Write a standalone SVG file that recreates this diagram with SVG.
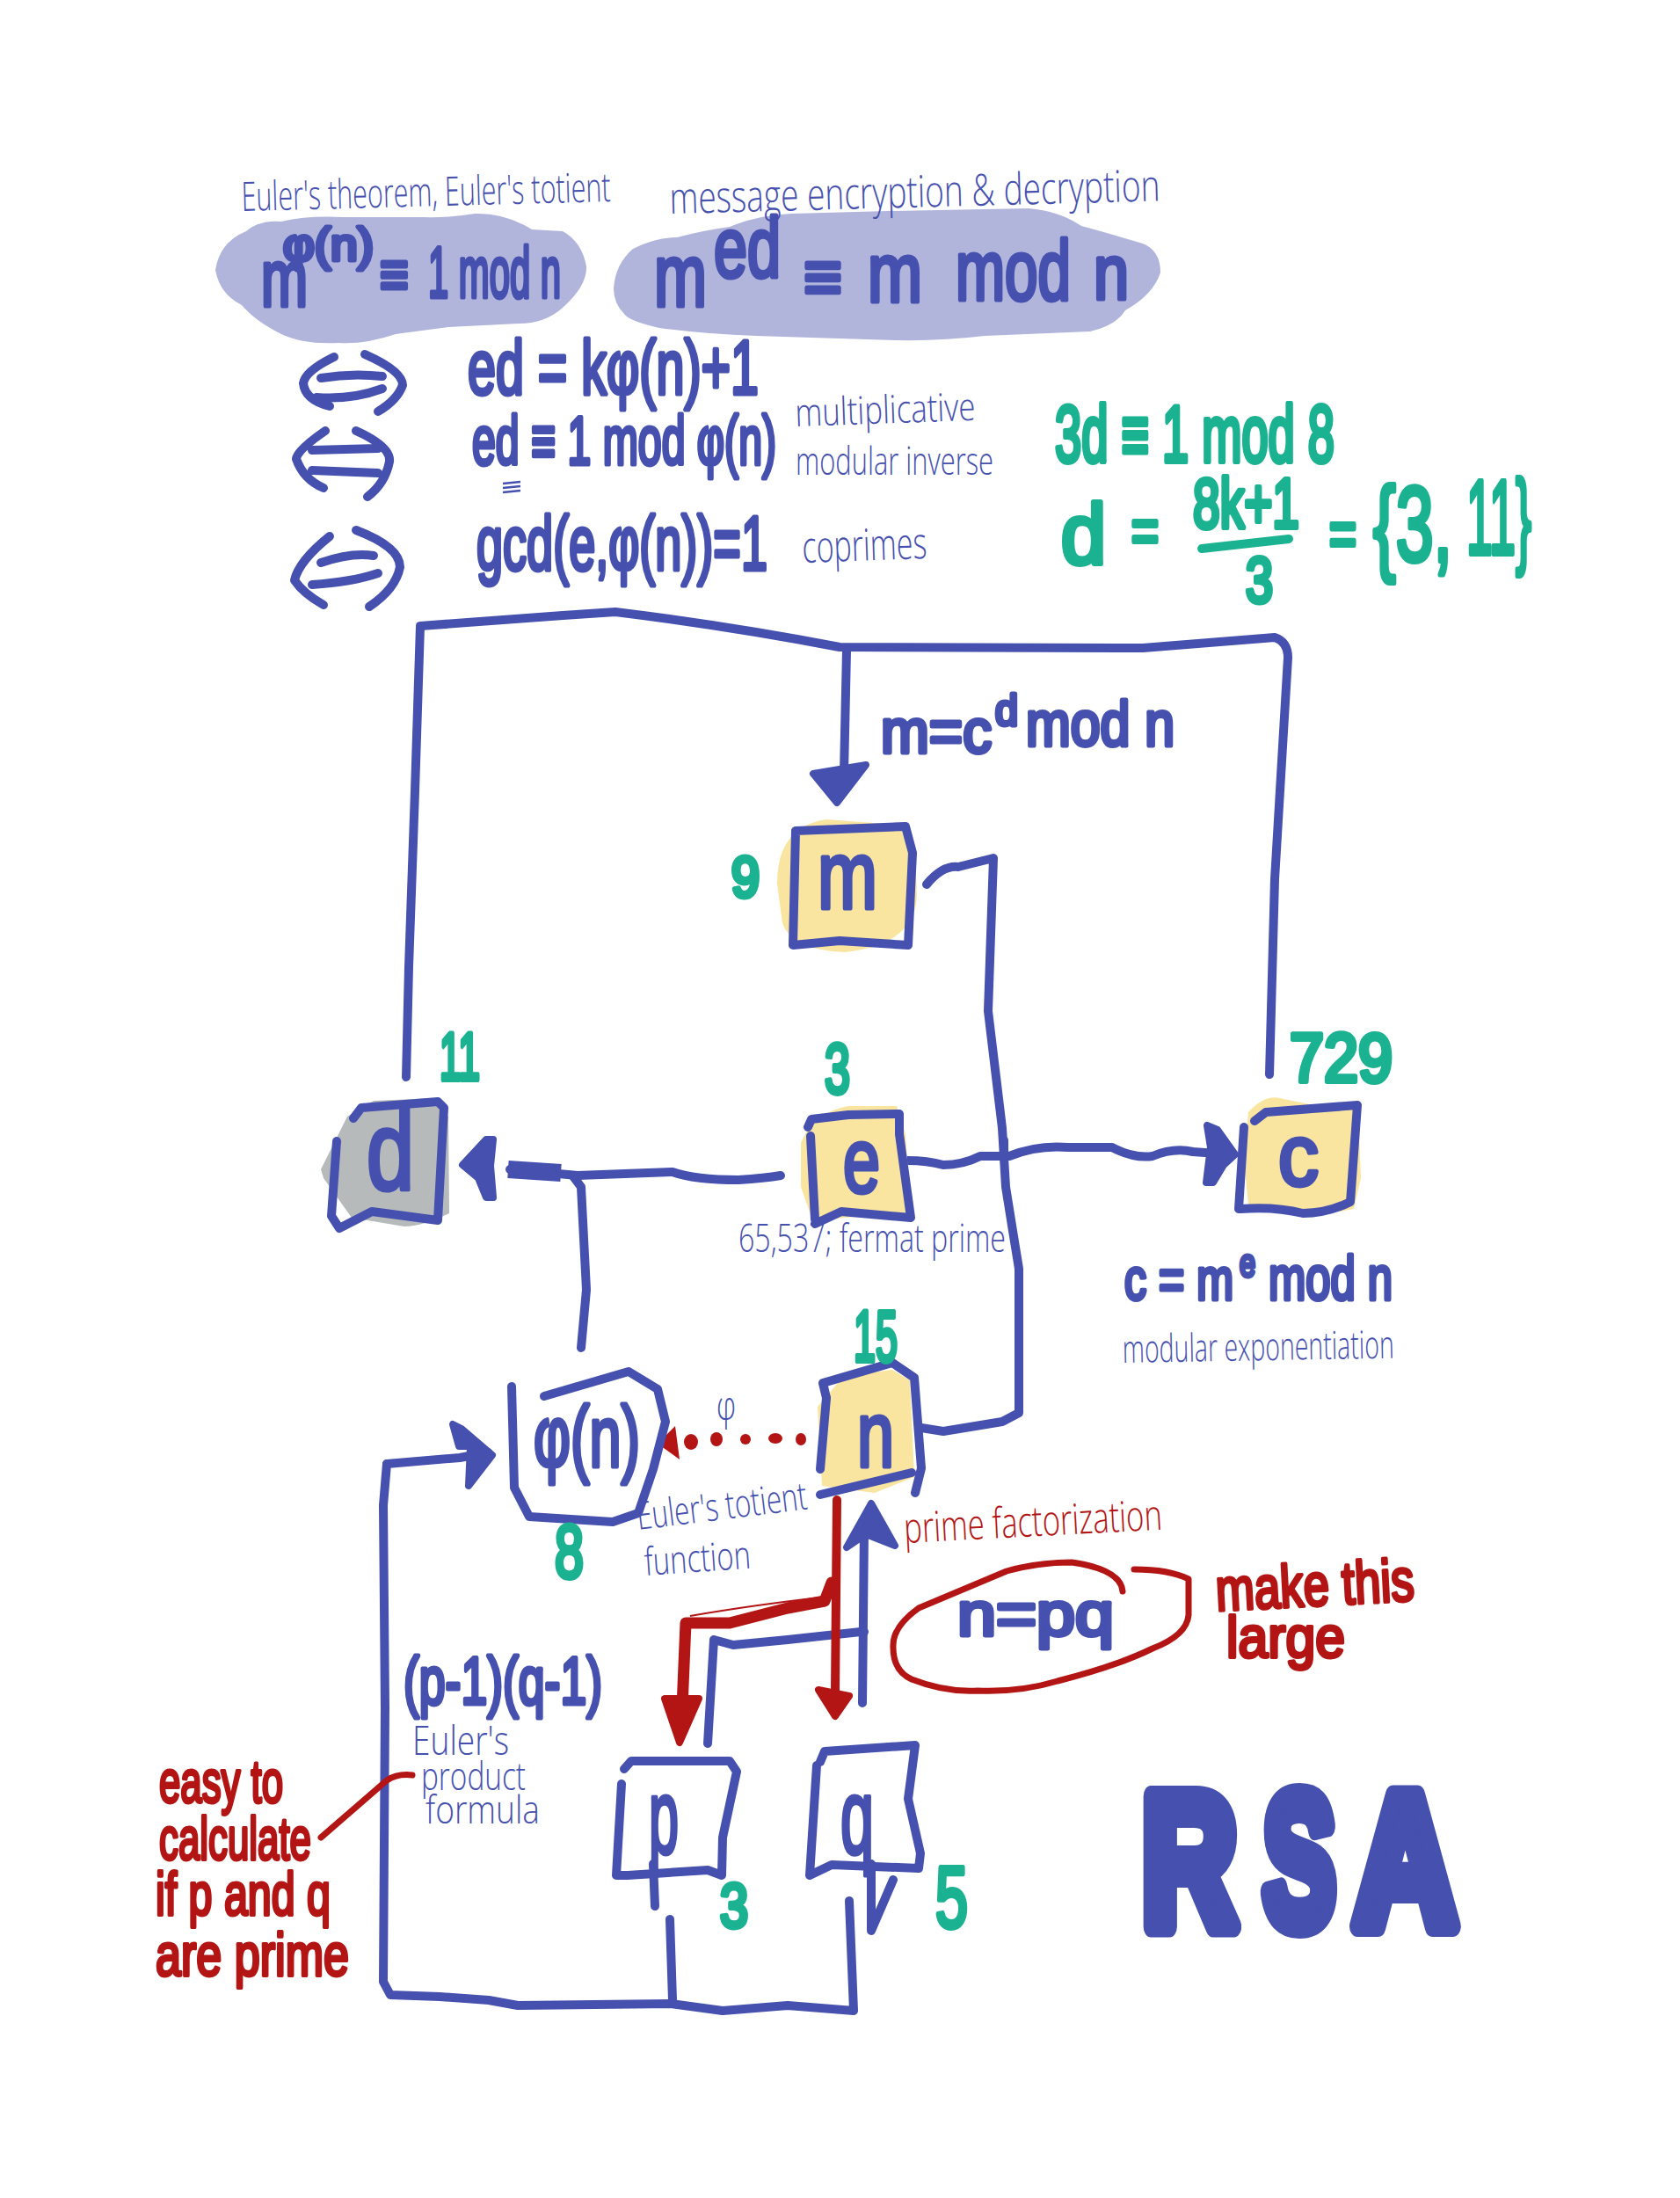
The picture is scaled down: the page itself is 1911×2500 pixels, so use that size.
<svg xmlns="http://www.w3.org/2000/svg" width="1911" height="2500" viewBox="0 0 1911 2500">
<style>
text{font-family:"Liberation Sans","DejaVu Sans",sans-serif;stroke-linejoin:round;stroke-linecap:round}
.b{fill:#4650ae;stroke:#4650ae;stroke-width:5}
.g{fill:#1ab291;stroke:#1ab291;stroke-width:6}
.r{fill:#b31414;stroke:#b31414;stroke-width:4}
.rsa{fill:#4650ae;stroke:#4650ae;stroke-width:24;font-weight:700}
.tb{fill:#4650ae;font-family:"Open Sans","DejaVu Sans",sans-serif;font-weight:300}
.tr{fill:#b31414;font-family:"Open Sans","DejaVu Sans",sans-serif;font-weight:300}
.c{fill:none;stroke:#4650ae;stroke-width:10;stroke-linecap:round;stroke-linejoin:round}
.cr{fill:none;stroke:#b31414;stroke-width:10;stroke-linecap:round;stroke-linejoin:round}
.hb{fill:#4650ae;stroke:#4650ae;stroke-width:8;stroke-linejoin:round}
.hr{fill:#b31414;stroke:#b31414;stroke-width:8;stroke-linejoin:round}
.y{fill:#f9e5a0}
.blob{fill:#b1b5dc}
</style>
<rect width="1911" height="2500" fill="#fff"/>

<g id="theorems">
<path class="blob" d="M245,307 Q250,275 280,263 Q295,250 320,252 Q350,245 390,247 L480,247 Q510,248 540,243 Q575,242 605,261 L640,263 Q662,275 667,303 Q668,325 640,350 Q620,368 590,368 L510,372 L450,380 Q415,392 385,390 Q345,392 320,380 Q290,365 275,347 Q250,335 245,307Z"/>
<path class="blob" d="M698,328 Q700,300 720,283 Q745,270 770,270 Q800,262 830,258 Q860,245 900,243 L1010,240 L1170,237 Q1205,240 1230,257 Q1260,265 1300,277 Q1320,285 1320,310 Q1312,335 1280,353 Q1270,370 1240,377 L1120,382 Q1070,388 1020,387 L860,382 Q800,380 750,373 Q715,365 710,357 Q698,345 698,328Z"/>
<text class="tb" x="275" y="240" font-size="46" textLength="420" lengthAdjust="spacingAndGlyphs" transform="rotate(-1.5 275 240)">Euler's theorem, Euler's totient</text>
<text class="tb" x="762" y="243" font-size="50" textLength="558" lengthAdjust="spacingAndGlyphs" transform="rotate(-1.5 762 243)">message encryption &amp; decryption</text>
<text class="b" x="297" y="348" font-size="90" textLength="53" lengthAdjust="spacingAndGlyphs">m</text>
<text class="b" x="322" y="296" font-size="52" textLength="103" lengthAdjust="spacingAndGlyphs">φ(n)</text>
<text class="b" x="432" y="336" font-size="70" textLength="33" lengthAdjust="spacingAndGlyphs">≡</text>
<text class="b" x="487" y="338" font-size="82" textLength="151" lengthAdjust="spacingAndGlyphs">1 mod n</text>
<text class="b" x="744" y="348" font-size="100" textLength="60" lengthAdjust="spacingAndGlyphs">m</text>
<text class="b" x="812" y="315" font-size="96" textLength="76" lengthAdjust="spacingAndGlyphs">ed</text>
<text class="b" x="914" y="342" font-size="80" textLength="44" lengthAdjust="spacingAndGlyphs">≡</text>
<text class="b" x="987" y="343" font-size="95" textLength="62" lengthAdjust="spacingAndGlyphs">m</text>
<text class="b" x="1087" y="341" font-size="96" textLength="131" lengthAdjust="spacingAndGlyphs">mod</text>
<text class="b" x="1244" y="340" font-size="88" textLength="40" lengthAdjust="spacingAndGlyphs">n</text>
</g>

<g id="equivalences">
<path class="c" d="M380,406 Q347,422 345,436 Q347,455 375,462 M415,403 Q458,422 458,438 Q452,455 430,468 M365,430 Q400,424 435,428 M360,452 Q400,455 435,442"/>
<path class="c" d="M370,490 Q338,512 337,522 Q345,545 368,555 M405,490 Q445,508 443,525 Q438,550 418,565 M355,512 L430,510 M355,535 L430,538"/>
<path class="c" d="M375,610 Q340,638 335,660 Q345,675 368,688 M405,603 Q455,622 455,645 Q450,670 420,690 M365,640 Q400,628 425,632 M355,665 Q400,662 430,652"/>
<text class="b" x="532" y="448" font-size="88" textLength="331" lengthAdjust="spacingAndGlyphs">ed = kφ(n)+1</text>
<text class="b" x="537" y="528" font-size="78" textLength="346" lengthAdjust="spacingAndGlyphs">ed ≡ 1 mod φ(n)</text>
<path fill="none" stroke="#4650ae" stroke-width="2.5" d="M572,550 L592,548 M572,555 L592,553 M572,560 L592,558"/>
<text class="b" x="542" y="648" font-size="88" textLength="331" lengthAdjust="spacingAndGlyphs">gcd(e,φ(n))=1</text>
<text class="tb" x="905" y="485" font-size="44" textLength="205" lengthAdjust="spacingAndGlyphs" transform="rotate(-2 905 485)">multiplicative</text>
<text class="tb" x="905" y="540" font-size="44" textLength="225" lengthAdjust="spacingAndGlyphs">modular inverse</text>
<text class="tb" x="913" y="640" font-size="50" textLength="142" lengthAdjust="spacingAndGlyphs" transform="rotate(-2 913 640)">coprimes</text>
</g>

<g id="solve-d">
<text class="g" x="1200" y="525" font-size="90" textLength="318" lengthAdjust="spacingAndGlyphs">3d ≡ 1 mod 8</text>
<text class="g" x="1207" y="641" font-size="96" textLength="51" lengthAdjust="spacingAndGlyphs">d</text>
<text class="g" x="1287" y="628" font-size="70" textLength="31" lengthAdjust="spacingAndGlyphs">=</text>
<text class="g" x="1357" y="600" font-size="80" textLength="121" lengthAdjust="spacingAndGlyphs">8k+1</text>
<path d="M1367,624 L1466,613" fill="none" stroke="#1ab291" stroke-width="10" stroke-linecap="round"/>
<text class="g" x="1417" y="685" font-size="72" textLength="31" lengthAdjust="spacingAndGlyphs">3</text>
<text class="g" x="1512" y="632" font-size="75" textLength="31" lengthAdjust="spacingAndGlyphs">=</text>
<text class="g" x="1562" y="638" font-size="120" textLength="90" lengthAdjust="spacingAndGlyphs">{3,</text>
<text class="g" x="1668" y="630" font-size="120" textLength="74" lengthAdjust="spacingAndGlyphs">11}</text>
</g>

<g id="connectors">
<path class="c" d="M462,1225 L465,1100 L472,900 L478,712 L640,700 L700,696 Q830,712 955,736 L1300,737 L1450,725 Q1465,730 1465,748 L1450,1000 L1444,1222"/>
<path class="c" d="M963,740 L960,880"/>
<path class="hb" d="M925,880 L985,870 L952,913Z"/>
<path class="c" d="M1054,1006 Q1072,984 1090,986 L1130,976 L1124,1150 L1140,1283 L1144,1350 L1152,1400 L1159,1443 L1159,1607 L1140,1617 L1073,1628 L1048,1624"/>
<path class="c" d="M888,1337 Q870,1340 840,1342 Q790,1342 765,1333 L657,1337 L580,1330"/>
<path d="M578,1330 L638,1334" fill="none" stroke="#4650ae" stroke-width="20"/>
<path class="c" d="M661,1533 L667,1467 L661,1350 L652,1338"/>
<path class="hb" d="M526,1325 L553,1296 L561,1296 L558,1326 L561,1362 L553,1362 L544,1340Z"/>
<path class="c" d="M1032,1320 Q1055,1320 1073,1325 Q1095,1325 1115,1315 L1148,1315 Q1180,1302 1215,1305 L1265,1305 Q1290,1318 1311,1315 Q1335,1305 1357,1310 L1398,1313"/>
<path class="c" d="M1142,1297 L1142,1315"/>
<path class="hb" d="M1405,1313 L1385,1285 L1373,1280 L1377,1305 L1372,1345 L1380,1345 L1392,1325Z"/>
<path class="c" d="M440,1665 L523,1658 L555,1652"/>
<path class="hb" d="M560,1655 L525,1625 L515,1620 L522,1645 L535,1645 L533,1690Z"/>
<path class="c" d="M440,1665 L436,1712 L438,1942 L436,2254 L444,2269 L500,2271 L556,2275 L589,2281 L763,2279 L822,2287 L896,2281 L971,2287 L966,2162"/>
<path class="c" d="M762,2183 L765,2275"/>
<path class="c" d="M981,1937 L983,1740"/>
<path class="hb" d="M991,1710 L1018,1758 L985,1745 L963,1760Z"/>
<path class="c" d="M805,1983 L812,1865 L834,1871 L896,1865 L979,1856 L983,1856"/>
<path class="cr" d="M952,1706 L950,1925"/>
<path class="hr" d="M931,1922 L966,1929 L950,1952Z"/>
<path class="cr" style="stroke-width:13" d="M946,1800 L938,1821 L896,1829 L830,1846 L780,1846 L776,1942"/>
<path fill="none" stroke="#b31414" stroke-width="2" d="M950,1815 Q860,1825 785,1838"/>
<path class="hr" d="M756,1932 L795,1932 L773,1982Z"/>
<g fill="#b31414">
<ellipse cx="786" cy="1640" rx="8" ry="9"/><ellipse cx="815" cy="1637" rx="7" ry="8"/><ellipse cx="848" cy="1637" rx="6" ry="6"/><ellipse cx="882" cy="1636" rx="8" ry="6"/><ellipse cx="911" cy="1637" rx="6" ry="7"/>
<path d="M748,1642 L768,1622 L773,1660Z"/>
</g>
<path class="cr" style="stroke-width:7" d="M1277,1810 Q1275,1785 1219,1777 Q1180,1777 1145,1787 L1045,1829 Q1016,1850 1016,1871 Q1015,1900 1037,1910 Q1075,1925 1112,1923 Q1160,1925 1203,1912 Q1270,1895 1311,1875 Q1350,1860 1352,1837 L1352,1796 Q1330,1785 1290,1785"/>
<path class="cr" style="stroke-width:7" d="M469,2019 Q452,2017 440,2025 L365,2090"/>
</g>

<g id="node-m">
<path class="y" d="M884,1005 Q884,940 940,932 L1020,938 Q1043,960 1043,1020 Q1040,1075 960,1083 Q900,1080 890,1050Z"/>
<path class="c" d="M905,945 L1030,940 L1038,970 L1033,1075 L955,1070 L902,1075 L905,945"/>
<text class="b" x="930" y="1033" font-size="110" textLength="68" lengthAdjust="spacingAndGlyphs">m</text>
<text class="g" x="832" y="1020" font-size="64" textLength="32" lengthAdjust="spacingAndGlyphs">9</text>
</g>

<g id="node-d">
<path fill="#b6babb" d="M365,1330 L395,1270 L425,1252 L495,1249 L510,1270 L511,1380 Q480,1395 460,1395 L400,1385 L368,1340Z"/>
<path class="c" d="M402,1272 L411,1260 L498,1253 L505,1260 L498,1388 L423,1378 L386,1397 L377,1383 L383,1298"/>
<text class="b" x="417" y="1353" font-size="126" textLength="54" lengthAdjust="spacingAndGlyphs">d</text>
<text class="g" x="500" y="1228" font-size="76" textLength="46" lengthAdjust="spacingAndGlyphs">11</text>
</g>

<g id="node-e">
<path class="y" d="M911,1300 Q925,1265 965,1258 L1020,1258 L1030,1290 L1036,1380 L960,1385 L925,1390 L911,1350Z"/>
<path class="c" d="M919,1282 L923,1273 L965,1268 L1023,1267 L1023,1290 L1036,1385 L957,1378 L927,1392"/>
<path class="c" d="M922,1292 L927,1387"/>
<text class="b" x="959" y="1356" font-size="104" textLength="42" lengthAdjust="spacingAndGlyphs">e</text>
<text class="g" x="938" y="1243" font-size="80" textLength="29" lengthAdjust="spacingAndGlyphs">3</text>
<text class="tb" x="840" y="1424" font-size="44" textLength="304" lengthAdjust="spacingAndGlyphs">65,537; fermat prime</text>
</g>

<g id="node-c">
<path class="y" d="M1415,1320 L1420,1265 Q1440,1243 1460,1250 L1500,1258 L1545,1262 L1548,1340 L1540,1375 Q1490,1385 1460,1380 L1420,1370Z"/>
<path class="c" d="M1427,1275 L1440,1265 L1544,1257 L1536,1367 Q1510,1380 1482,1380 Q1450,1372 1411,1375"/>
<path class="c" d="M1415,1282 L1409,1375"/>
<text class="b" x="1454" y="1348" font-size="98" textLength="46" lengthAdjust="spacingAndGlyphs">c</text>
<text class="g" x="1467" y="1230" font-size="78" textLength="117" lengthAdjust="spacingAndGlyphs">729</text>
<text class="b" x="1279" y="1478" font-size="66" textLength="124" lengthAdjust="spacingAndGlyphs">c = m</text>
<text class="b" x="1410" y="1452" font-size="44" textLength="18" lengthAdjust="spacingAndGlyphs">e</text>
<text class="b" x="1443" y="1478" font-size="70" textLength="141" lengthAdjust="spacingAndGlyphs">mod n</text>
<text class="tb" x="1277" y="1550" font-size="44" textLength="309" lengthAdjust="spacingAndGlyphs" transform="rotate(-1 1277 1550)">modular exponentiation</text>
</g>

<g id="node-m-formula">
<text class="b" x="1002" y="856" font-size="70" textLength="126" lengthAdjust="spacingAndGlyphs">m=c</text>
<text class="b" x="1132" y="825" font-size="50" textLength="26" lengthAdjust="spacingAndGlyphs">d</text>
<text class="b" x="1167" y="848" font-size="72" textLength="169" lengthAdjust="spacingAndGlyphs">mod n</text>
</g>

<g id="node-n">
<path class="y" d="M930,1600 L960,1565 L1015,1558 L1035,1570 L1040,1680 L995,1698 L935,1690Z"/>
<path class="c" d="M940,1590 L936,1573 L1015,1550 L1040,1567 L1048,1670 L1041,1698"/>
<path class="c" d="M933,1700 L1037,1675"/>
<path class="c" d="M940,1590 L933,1671"/>
<text class="b" x="975" y="1668" font-size="106" textLength="42" lengthAdjust="spacingAndGlyphs">n</text>
<text class="g" x="971" y="1548" font-size="82" textLength="50" lengthAdjust="spacingAndGlyphs">15</text>
</g>

<g id="node-phi">
<path class="c" d="M582,1577 L585,1692 L602,1725 L697,1731 L726,1721 L743,1671 L757,1617 L748,1580 L715,1560 L619,1588"/>
<text class="b" x="607" y="1668" font-size="98" textLength="121" lengthAdjust="spacingAndGlyphs">φ(n)</text>
<text class="g" x="631" y="1794" font-size="86" textLength="33" lengthAdjust="spacingAndGlyphs">8</text>
<text class="tb" x="815" y="1615" font-size="46" textLength="22" lengthAdjust="spacingAndGlyphs">φ</text>
<text class="tb" x="726" y="1740" font-size="44" textLength="195" lengthAdjust="spacingAndGlyphs" transform="rotate(-7 726 1740)">Euler's totient</text>
<text class="tb" x="734" y="1792" font-size="44" textLength="121" lengthAdjust="spacingAndGlyphs" transform="rotate(-4 734 1792)">function</text>
</g>

<g id="node-p">
<path class="c" d="M710,2012 L718,2003 L830,2003 L838,2015 L822,2090 L821,2133 L805,2127 L714,2133 L701,2133 L707,2029"/>
<text class="b" x="738" y="2108" font-size="120" textLength="34" lengthAdjust="spacingAndGlyphs">p</text>
<path class="c" d="M743,2120 L745,2168"/>
<text class="g" x="819" y="2192" font-size="70" textLength="32" lengthAdjust="spacingAndGlyphs">3</text>
</g>

<g id="node-q">
<path class="c" d="M933,2004 L938,1992 L1041,1985 L1033,2046 L1047,2108 L1045,2125 L946,2121 L921,2133 L929,2008"/>
<text class="b" x="956" y="2108" font-size="120" textLength="38" lengthAdjust="spacingAndGlyphs">q</text>
<path class="c" d="M991,2120 L991,2196 L1016,2138"/>
<text class="g" x="1064" y="2192" font-size="98" textLength="37" lengthAdjust="spacingAndGlyphs">5</text>
</g>

<g id="labels">
<text class="tr" x="1029" y="1755" font-size="48" textLength="294" lengthAdjust="spacingAndGlyphs" transform="rotate(-3 1029 1755)">prime factorization</text>
<text class="b" x="1089" y="1860" font-size="70" textLength="178" lengthAdjust="spacingAndGlyphs">n=pq</text>
<text class="r" x="1384" y="1832" font-size="68" textLength="226" lengthAdjust="spacingAndGlyphs" transform="rotate(-3 1384 1832)">make this</text>
<text class="r" x="1395" y="1885" font-size="66" textLength="135" lengthAdjust="spacingAndGlyphs">large</text>
<text class="b" x="459" y="1938" font-size="76" textLength="226" lengthAdjust="spacingAndGlyphs">(p-1)(q-1)</text>
<text class="tb" x="469" y="1996" font-size="46" textLength="110" lengthAdjust="spacingAndGlyphs">Euler's</text>
<text class="tb" x="479" y="2036" font-size="44" textLength="119" lengthAdjust="spacingAndGlyphs">product</text>
<text class="tb" x="484" y="2074" font-size="44" textLength="130" lengthAdjust="spacingAndGlyphs">formula</text>
<text class="r" x="181" y="2050" font-size="68" textLength="141" lengthAdjust="spacingAndGlyphs">easy to</text>
<text class="r" x="181" y="2115" font-size="68" textLength="173" lengthAdjust="spacingAndGlyphs">calculate</text>
<text class="r" x="177" y="2178" font-size="68" textLength="199" lengthAdjust="spacingAndGlyphs">if p and q</text>
<text class="r" x="177" y="2247" font-size="68" textLength="220" lengthAdjust="spacingAndGlyphs">are prime</text>
<text class="rsa" x="1299" y="2191" font-size="215" textLength="108" lengthAdjust="spacingAndGlyphs">R</text>
<text class="rsa" x="1437" y="2191" font-size="215" textLength="82" lengthAdjust="spacingAndGlyphs">S</text>
<text class="rsa" x="1540" y="2191" font-size="215" textLength="117" lengthAdjust="spacingAndGlyphs">A</text>
</g>
</svg>
